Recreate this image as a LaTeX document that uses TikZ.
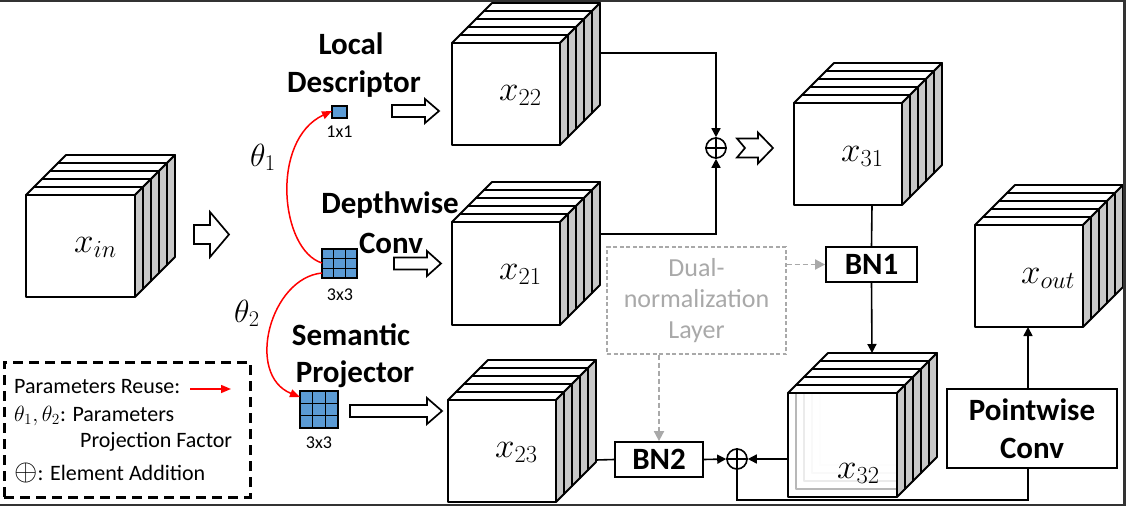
\documentclass[tikz,border=0pt]{standalone}
\usepackage{fix-cm}
\usepackage{fontspec}
\setmainfont{Carlito}
\usetikzlibrary{arrows.meta}
\definecolor{kblue}{HTML}{5B9BD5}
\definecolor{sidegray}{HTML}{C8C8C8}
\definecolor{dualgray}{HTML}{A9A9A9}
\definecolor{framegray}{HTML}{333333}
\newcommand{\fsz}[1]{\fontsize{#1}{#1}\selectfont}
\newcommand{\fszb}[2]{\fontsize{#1}{#2}\selectfont}
% #1 L, #2 T, #3 R, #4 B, #5 front fill opacity
\newcommand{\slabcube}[5]{%
  \foreach \ii in {4,3,2,1,0}{%
    \pgfmathsetmacro{\sof}{\ii*8}%
    \filldraw[cubeline, fill=white] (#1+\sof,#2-\sof) -- (#3+\sof,#2-\sof) -- (#3+\sof+8,#2-\sof-8) -- (#1+\sof+8,#2-\sof-8) -- cycle;
    \filldraw[cubeline, fill=sidegray] (#3+\sof,#2-\sof) -- (#3+\sof+8,#2-\sof-8) -- (#3+\sof+8,#4-\sof-8) -- (#3+\sof,#4-\sof) -- cycle;
    \filldraw[cubeline, fill=white, fill opacity=#5] (#1+\sof,#2-\sof) rectangle (#3+\sof,#4-\sof);
  }}
% #1 x1, #2 x2, #3 yc, #4 shaft half, #5 head half, #6 head start, #7 notch depth
\newcommand{\blockarr}[7]{%
  \filldraw[blk] (#1,#3-#4) -- (#6,#3-#4) -- (#6,#3-#5) -- (#2,#3) -- (#6,#3+#5) -- (#6,#3+#4) -- (#1,#3+#4) -- (#1+#7,#3) -- cycle;}
% 3x3 kernel: #1 x1, #2 y1, #3 x2, #4 y2
\newcommand{\kernthree}[4]{%
  \filldraw[kern] (#1,#2) rectangle (#3,#4);
  \draw[kern] ({#1+(#3-#1)/3},#2) -- ({#1+(#3-#1)/3},#4)
              ({#1+2*(#3-#1)/3},#2) -- ({#1+2*(#3-#1)/3},#4)
              (#1,{#2+(#4-#2)/3}) -- (#3,{#2+(#4-#2)/3})
              (#1,{#2+2*(#4-#2)/3}) -- (#3,{#2+2*(#4-#2)/3});}
\begin{document}
\begin{tikzpicture}[x=1pt,y=-1pt,
  cubeline/.style={line width=1.8pt, line join=round},
  conn/.style={line width=1.6pt},
  arr/.style={conn, -{Triangle[length=9pt,width=9pt]}},
  redarr/.style={red, line width=1.5pt, -{Triangle[length=10pt,width=8pt]}},
  dasharr/.style={dualgray, line width=1.8pt, dash pattern=on 5pt off 3pt, -{Triangle[length=10pt,width=10pt]}},
  boxnode/.style={draw, line width=1.8pt, inner sep=0pt, font=\bfseries\fsz{31}, align=center},
  blk/.style={draw, line width=1.7pt, fill=white, line join=miter},
  kern/.style={draw=black, fill=kblue, line width=1.6pt},
  boldtxt/.style={font=\bfseries\fsz{31}, inner sep=0pt, anchor=base},
  lbl/.style={font=\fsz{35}, inner sep=0pt, anchor=base west},
  thlbl/.style={font=\fsz{32}, inner sep=0pt, anchor=base west},
  legtxt/.style={font=\fsz{22}, inner sep=0pt, anchor=base west},
  ktxt/.style={font=\fsz{18}, inner sep=0pt, anchor=base},
  plusnode/.style={circle, draw, line width=1.6pt, minimum size=20pt, inner sep=0pt}
]
\useasboundingbox (0,0) rectangle (1126,506);
\fill[white] (0,0) rectangle (1126,506);

% cubes
\slabcube{26}{195}{135}{297}{1}
\slabcube{452}{43}{560}{145}{1}
\slabcube{452}{222}{560}{325}{1}
\slabcube{448}{400}{556}{502}{1}
\slabcube{794}{103}{902}{205}{1}
\slabcube{788}{393}{897}{497}{0.72}
\slabcube{975}{225}{1083}{327}{1}

% connector end points on cubes
\coordinate (x22out) at (601,53);
\coordinate (x21out) at (601,234);
\coordinate (x23out) at (596,460);
\coordinate (x31bot) at (872,205);
\coordinate (x32top) at (872,353);
\coordinate (x32left) at (788,459);
\coordinate (xoutbot) at (1028,327);

% cube labels
\node[lbl] (lxin) at (74,252) {$x_{in}$};
\node[lbl] (lx22) at (499,100) {$x_{22}$};
\node[lbl] (lx21) at (499,279) {$x_{21}$};
\node[lbl] (lx23) at (495,457) {$x_{23}$};
\node[lbl] (lx31) at (841,161) {$x_{31}$};
\node[lbl] (lx32) at (837,478) {$x_{32}$};
\node[lbl] (lxout) at (1021,283) {$x_{out}$};

% block arrows
\blockarr{194}{229}{234.5}{9.5}{22.5}{210}{0}
\blockarr{392}{439}{111}{6}{12}{425}{0}
\blockarr{394}{441}{263.5}{6}{12.5}{427}{0}
\blockarr{350}{442}{411}{6}{13}{427}{0}
\blockarr{737}{773}{148}{9.5}{15.5}{758}{8}

% kernels
\filldraw[kern] (332,106) rectangle (347,118);
\coordinate (k1) at (332,111);
\kernthree{322}{249}{357}{278}
\coordinate (k2a) at (322,263);
\coordinate (k2b) at (322,273);
\kernthree{300}{391}{338}{428}
\coordinate (k3) at (300,397);
\node[ktxt] (t11) at (339.5,137) {1x1};
\node[ktxt] (t33a) at (340,300) {3x3};
\node[ktxt] (t33b) at (319,448) {3x3};

% red reuse curves
\draw[redarr] (k2a) .. controls (280,250) and (270,140) .. (k1);
\draw[redarr] (k2b) .. controls (270,278) and (245,375) .. (k3);
\node[thlbl] (th1) at (250,166) {$\theta_1$};
\node[thlbl] (th2) at (234,322) {$\theta_2$};

% titles
\node[boldtxt] (ld1) at (351,54) {Local};
\node[boldtxt] (ld2) at (354,92) {Descriptor};
\node[boldtxt] (dc1) at (390,213) {Depthwise};
\node[boldtxt] (dc2) at (391,253) {Conv};
\node[boldtxt] (sp1) at (351,345) {Semantic};
\node[boldtxt] (sp2) at (355,382) {Projector};

% additions
\node[plusnode] (p1) at (716,148) {};
\draw[line width=1.6pt] (p1.north) -- (p1.south) (p1.west) -- (p1.east);
\node[plusnode] (p2) at (737,459) {};
\draw[line width=1.6pt] (p2.north) -- (p2.south) (p2.west) -- (p2.east);

% boxes
\node[boxnode, minimum width=91pt, minimum height=35pt] (bn1) at (871.5,264.5) {BN1};
\node[boxnode, minimum width=88pt, minimum height=35pt] (bn2) at (659,459.5) {BN2};
\node[boxnode, minimum width=170pt, minimum height=79pt, font=\bfseries\fszb{31}{38}] (pw) at (1032,428.5) {Pointwise\\Conv};
\node[draw=dualgray, dash pattern=on 4pt off 2.5pt, line width=1.2pt, minimum width=179pt, minimum height=107pt,
      text=dualgray, font=\fszb{26}{31}, align=center, inner sep=0pt] (dual) at (696.5,300.5) {Dual-\\normalization\\Layer};

% connectors
\draw[arr] (x22out) -| (p1.north);
\draw[arr] (x21out) -| (p1.south);
\draw[conn] (x31bot) -- (bn1.north);
\draw[arr] (bn1.south) -- (x32top);
\draw[dasharr] (dual.east |- bn1.west) -- (bn1.west);
\draw[dasharr] (dual.south -| bn2.north) -- (bn2.north);
\draw[conn] (x23out) -- (bn2.west);
\draw[arr] (bn2.east) -- (p2.west);
\draw[arr] (x32left) -- (p2.east);
\coordinate (loopa) at (737,500);
\coordinate (loopb) at (1028,500);
\draw[conn] (p2.south) -- (loopa) -- (loopb) -- (pw.south -| loopb);
\draw[arr] (pw.north -| xoutbot) -- (xoutbot);

% legend
\node[draw, line width=3pt, dash pattern=on 10pt off 6pt, minimum width=246pt, minimum height=135pt, inner sep=0pt] (legend) at (127,429.5) {};
\node[legtxt] (lg1) at (14,393) {Parameters Reuse:};
\coordinate (lga) at (190,389);
\coordinate (lgb) at (231,389);
\draw[red, line width=1.5pt, -{Triangle[length=10pt,width=8pt]}] (lga) -- (lgb);
\node[legtxt] (lg2) at (14,421) {$\theta_1, \theta_2$: Parameters};
\node[legtxt] (lg3) at (80,447) {Projection Factor};
\node[legtxt] (lg4) at (14,480) {{\fsz{30}$\oplus$}: Element Addition};

% screenshot frame
\fill[framegray] (0,0) rectangle (1126,2);
\fill[framegray] (1123,0) rectangle (1126,506);
\fill[framegray] (0,503.5) rectangle (1126,506);
\end{tikzpicture}
\end{document}
